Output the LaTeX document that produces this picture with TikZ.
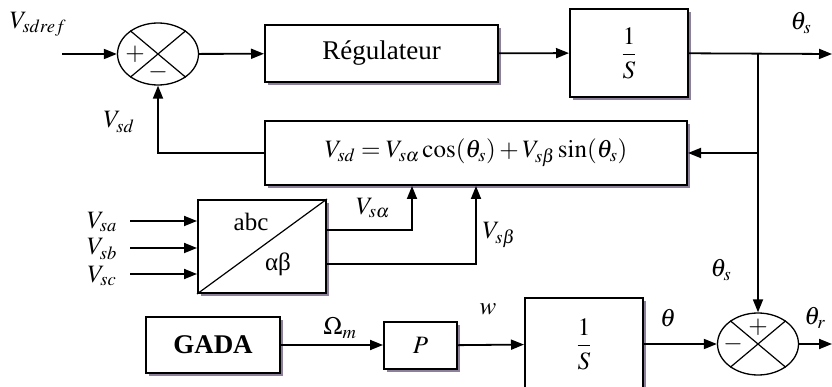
\documentclass[tikz,border=0pt]{standalone}
\usepackage{mathptmx}
\usepackage{fontspec}
\setmainfont{Liberation Serif}
\usetikzlibrary{shapes.geometric,arrows.meta,shadows}
\definecolor{shadowgray}{RGB}{140,128,155}
\tikzset{
	blk/.style={draw,line width=2pt,fill=white,inner sep=0pt,
		drop shadow={shadow xshift=3pt,shadow yshift=-3pt,fill=shadowgray,opacity=1}},
	sum/.style={draw,ellipse,line width=1.3pt,minimum width=81pt,minimum height=62pt,inner sep=0pt},
	sig/.style={line width=1.8pt,-{Triangle[length=13pt,width=10pt]}},
	wire/.style={line width=1.8pt},
	cross/.style={line width=1.2pt}
}
\begin{document}
\begin{tikzpicture}[x=1pt,y=-1pt,font=\fontsize{25}{29}\selectfont]
	\useasboundingbox (0,0) rectangle (832,387);
	% blocs
	\node[sum] (s1) at (158,54) {};
	\node[blk,minimum width=233pt,minimum height=57pt,font=\fontsize{27}{31}\selectfont] (reg) at (381.5,53.5) {Régulateur};
	\node[blk,minimum width=118pt,minimum height=88pt] (int1) at (629,53) {$\displaystyle\frac{1}{S}$};
	\node[blk,minimum width=422pt,minimum height=64pt] (eq) at (476,153)
		{$V_{sd}=V_{s\alpha}\cos(\theta_s)+V_{s\beta}\sin(\theta_s)$};
	\node[blk,minimum width=128pt,minimum height=93pt] (conv) at (262,246.5) {};
	\node[blk,minimum width=134pt,minimum height=56pt,font=\fontsize{27}{31}\selectfont\bfseries] (gada) at (213,345) {GADA};
	\node[blk,minimum width=73pt,minimum height=47pt] (pbox) at (420.5,345.5) {$P$};
	\node[blk,minimum width=118pt,minimum height=92pt] (int2) at (584,344) {$\displaystyle\frac{1}{S}$};
	\node[sum] (s2) at (758,344) {};
	% croix des sommateurs
	\draw[cross] (s1.140) -- (s1.-40) (s1.40) -- (s1.-140);
	\draw[cross] (s2.140) -- (s2.-40) (s2.40) -- (s2.-140);
	\node at ([xshift=-23pt]s1.center) {$+$};
	\node at ([yshift=-18pt]s1.center) {$-$};
	\node at ([yshift=17pt]s2.center) {$+$};
	\node at ([xshift=-25pt]s2.center) {$-$};
	% abc / alpha beta
	\draw[cross] (conv.south west) -- (conv.north east);
	\node (abc) at (251,222) {abc};
	\node (ab) at (278,264) {αβ};
	% points libres
	\coordinate (in) at (62,54);
	\coordinate (br) at (758,54);
	\coordinate (out1) at (832,54);
	\coordinate (out2) at (832,344);
	\coordinate (ia) at (130,221);
	\coordinate (ib) at (130,248);
	\coordinate (ic) at (130,274);
	\coordinate (pa) at (412,230);
	\coordinate (pb) at (476,264);
	% liaisons
	\draw[sig] (in) -- (s1);
	\draw[sig] (s1) -- (reg);
	\draw[sig] (reg) -- (int1);
	\draw[sig] (int1) -- (out1);
	\draw[sig] (br) -- (s2);
	\draw[sig] (br |- eq.east) -- (eq);
	\draw[sig] (eq) -| (s1);
	\draw[sig] (ia) -- (ia -| conv.west);
	\draw[sig] (ib) -- (ib -| conv.west);
	\draw[sig] (ic) -- (ic -| conv.west);
	\draw[sig] (pa -| conv.east) -| (pa |- eq.south);
	\draw[sig] (pb -| conv.east) -| (pb |- eq.south);
	\draw[sig] (gada) -- (pbox.west |- gada);
	\draw[sig] (pbox) -- (int2);
	\draw[sig] (int2) -- (s2);
	\draw[sig] (s2) -- (out2);
	% etiquettes
	\node at (38,24) {$V_{sdref}$};
	\node at (119,122) {$V_{sd}$};
	\node at (801,23) {$\theta_s$};
	\node at (102,222) {$V_{sa}$};
	\node at (102,249) {$V_{sb}$};
	\node at (102,276) {$V_{sc}$};
	\node at (373,208) {$V_{s\alpha}$};
	\node at (499,235) {$V_{s\beta}$};
	\node at (340,328) {$\Omega_m$};
	\node at (488,309) {$w$};
	\node at (668,318) {$\theta$};
	\node at (721,270) {$\theta_s$};
	\node at (815,318) {$\theta_r$};
\end{tikzpicture}
\end{document}
